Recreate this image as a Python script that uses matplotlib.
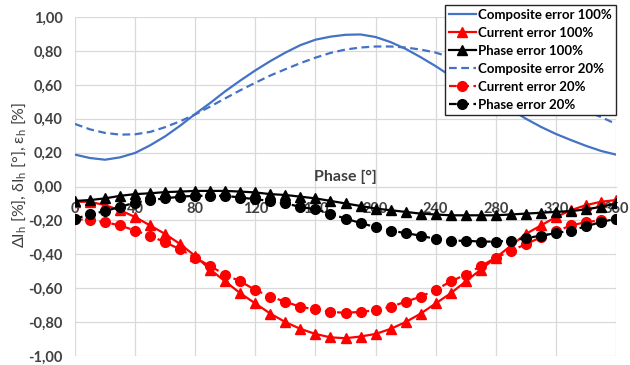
import matplotlib
matplotlib.use("Agg")
import matplotlib.pyplot as plt
from matplotlib.ticker import FuncFormatter

plt.rcParams['font.family'] = ['Lato', 'DejaVu Sans']
plt.rcParams['mathtext.default'] = 'regular'

# phase angle in degrees, one sample every 10 degrees
phase = [0, 10, 20, 30, 40, 50, 60, 70, 80, 90, 100, 110, 120, 130, 140, 150, 160, 170, 180,
         190, 200, 210, 220, 230, 240, 250, 260, 270, 280, 290, 300, 310, 320, 330, 340, 350, 360]

composite_100 = [0.188, 0.168, 0.158, 0.172, 0.198, 0.243, 0.296, 0.359, 0.428, 0.493, 0.562,
                 0.625, 0.685, 0.740, 0.790, 0.834, 0.866, 0.884, 0.895, 0.897, 0.882, 0.852,
                 0.812, 0.763, 0.710, 0.652, 0.598, 0.548, 0.500, 0.455, 0.400, 0.352, 0.310,
                 0.274, 0.240, 0.210, 0.188]
current_100 = [-0.09, -0.09, -0.11, -0.14, -0.18, -0.23, -0.28, -0.34, -0.41, -0.49, -0.56,
               -0.63, -0.69, -0.75, -0.80, -0.84, -0.87, -0.89, -0.895, -0.885, -0.87, -0.84,
               -0.80, -0.75, -0.69, -0.63, -0.56, -0.49, -0.42, -0.35, -0.28, -0.23, -0.18,
               -0.14, -0.11, -0.09, -0.08]
phase_100 = [-0.085, -0.08, -0.07, -0.055, -0.045, -0.04, -0.033, -0.03, -0.026, -0.026, -0.026,
             -0.03, -0.035, -0.045, -0.05, -0.06, -0.07, -0.085, -0.10, -0.115, -0.13, -0.14,
             -0.15, -0.16, -0.165, -0.17, -0.17, -0.17, -0.17, -0.165, -0.16, -0.155, -0.15,
             -0.145, -0.135, -0.12, -0.10]
composite_20 = [0.369, 0.337, 0.316, 0.306, 0.308, 0.322, 0.350, 0.385, 0.425, 0.472, 0.520,
                0.568, 0.612, 0.655, 0.692, 0.728, 0.760, 0.788, 0.808, 0.820, 0.826, 0.826,
                0.820, 0.808, 0.790, 0.762, 0.728, 0.690, 0.650, 0.610, 0.572, 0.536, 0.504,
                0.475, 0.445, 0.410, 0.369]
current_20 = [-0.19, -0.20, -0.21, -0.23, -0.26, -0.29, -0.33, -0.37, -0.42, -0.47, -0.52,
              -0.56, -0.61, -0.65, -0.68, -0.71, -0.725, -0.74, -0.745, -0.74, -0.73, -0.71,
              -0.68, -0.65, -0.61, -0.56, -0.52, -0.47, -0.42, -0.38, -0.34, -0.30, -0.265,
              -0.23, -0.21, -0.20, -0.19]
phase_20 = [-0.19, -0.165, -0.145, -0.12, -0.095, -0.08, -0.07, -0.06, -0.055, -0.055, -0.055,
            -0.065, -0.075, -0.085, -0.10, -0.12, -0.135, -0.16, -0.19, -0.215, -0.24, -0.26,
            -0.275, -0.29, -0.31, -0.32, -0.32, -0.325, -0.325, -0.32, -0.305, -0.29, -0.275,
            -0.26, -0.235, -0.21, -0.19]

blue = '#4472c4'
red = '#ff0000'
txt = '#404040'

fig = plt.figure(figsize=(6.3, 3.65), dpi=100)
ax = fig.add_axes([75 / 630, 1 - 356 / 365, 541 / 630, 339 / 365])

ax.plot(phase, composite_100, color=blue, lw=1.6, label='Composite error 100%', zorder=3)
ax.plot(phase, current_100, color=red, lw=1.6, marker='^', ms=7,
        label='Current error 100%', zorder=4)
ax.plot(phase, phase_100, color='black', lw=1.6, marker='^', ms=7,
        label='Phase error 100%', zorder=4)
ax.plot(phase, composite_20, color=blue, lw=1.6, ls=(0, (3.5, 2)),
        label='Composite error 20%', zorder=3)
ax.plot(phase, current_20, color=red, lw=1.6, ls=(0, (3.5, 2)), marker='o', ms=7,
        label='Current error 20%', zorder=4)
ax.plot(phase, phase_20, color='black', lw=1.6, ls=(0, (3.5, 2)), marker='o', ms=7,
        label='Phase error 20%', zorder=4)

ax.set_xlim(0, 360)
ax.set_ylim(-1.0, 1.0)
ax.set_xticks(range(0, 361, 40))
ax.set_yticks([-1.0, -0.8, -0.6, -0.4, -0.2, 0.0, 0.2, 0.4, 0.6, 0.8, 1.0])
ax.yaxis.set_major_formatter(FuncFormatter(lambda v, p: f'{v:.2f}'.replace('.', ',')))
ax.grid(True, color='#d9d9d9', lw=0.9)
ax.set_axisbelow(True)

for s in ['top', 'right', 'left']:
    ax.spines[s].set_visible(False)
ax.spines['bottom'].set_position(('data', 0))
ax.spines['bottom'].set_color('#d9d9d9')

ax.tick_params(axis='both', length=0, labelsize=10.5, labelcolor=txt)
ax.tick_params(axis='x', pad=11)
ax.tick_params(axis='y', pad=9)
for lab in ax.get_xticklabels() + ax.get_yticklabels():
    lab.set_fontweight('bold')

ax.text(180, 0.055, 'Phase [°]', ha='center', va='center', fontsize=11.5,
        fontweight='bold', color=txt)
fig.text(0.03, 0.52, 'ΔI$_{h}$ [%], δI$_{h}$ [°], ε$_{h}$ [%]', rotation=90,
         ha='center', va='center', fontsize=11.5, color=txt)

leg = ax.legend(loc='upper right', bbox_to_anchor=(616 / 630, 1 - 5 / 365),
                bbox_transform=fig.transFigure, fontsize=9.5, frameon=True,
                fancybox=False, framealpha=1, edgecolor='#262626', handlelength=2.0,
                handletextpad=0.2, labelspacing=0.45, borderpad=0.3, borderaxespad=0)
leg.get_frame().set_linewidth(1.0)
for t in leg.get_texts():
    t.set_fontweight('bold')
    t.set_color('black')
leg.set_zorder(10)

fig.savefig('out.png', dpi=100)
